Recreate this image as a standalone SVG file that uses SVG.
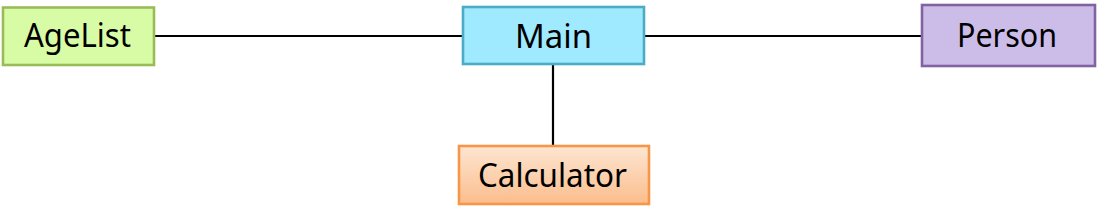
<svg xmlns="http://www.w3.org/2000/svg" width="1097" height="221" viewBox="0 0 1097 221">
<style>
.box{stroke-width:2.6}
.lbl{font-family:"Noto Sans","Open Sans",sans-serif;font-size:33px;fill:#000;text-anchor:middle}
.conn{stroke:#000;stroke-width:2.2;fill:none}
</style>
<defs>
<linearGradient id="gCalc" x1="0" y1="0" x2="0" y2="1">
<stop offset="0" stop-color="#fde6d2"/>
<stop offset="1" stop-color="#fbbd8c"/>
</linearGradient>
</defs>
<rect width="1097" height="221" fill="#fff"/>
<g id="connectors">
<line class="conn" x1="154" y1="36" x2="463" y2="36"/>
<line class="conn" x1="644" y1="36" x2="922" y2="36"/>
<line class="conn" x1="553" y1="64" x2="553" y2="146"/>
</g>
<g id="agelist">
<rect class="box" x="3" y="7.5" width="151" height="57.5" fill="#d8fca6" stroke="#9bbb59"/>
<text class="lbl" x="77.5" y="47" textLength="107" lengthAdjust="spacingAndGlyphs">AgeList</text>
</g>
<g id="main">
<rect class="box" x="463" y="7" width="181" height="57" fill="#a0eaff" stroke="#4bacc6"/>
<text class="lbl" x="553.5" y="48" textLength="77" lengthAdjust="spacingAndGlyphs">Main</text>
</g>
<g id="person">
<rect class="box" x="922" y="5" width="173" height="61" fill="#ccbde8" stroke="#8064a2"/>
<text class="lbl" x="1007" y="47" textLength="100" lengthAdjust="spacingAndGlyphs">Person</text>
</g>
<g id="calculator">
<rect class="box" x="459" y="146" width="190" height="58" fill="url(#gCalc)" stroke="#f79646"/>
<text class="lbl" x="552.5" y="187" textLength="149" lengthAdjust="spacingAndGlyphs">Calculator</text>
</g>
</svg>
